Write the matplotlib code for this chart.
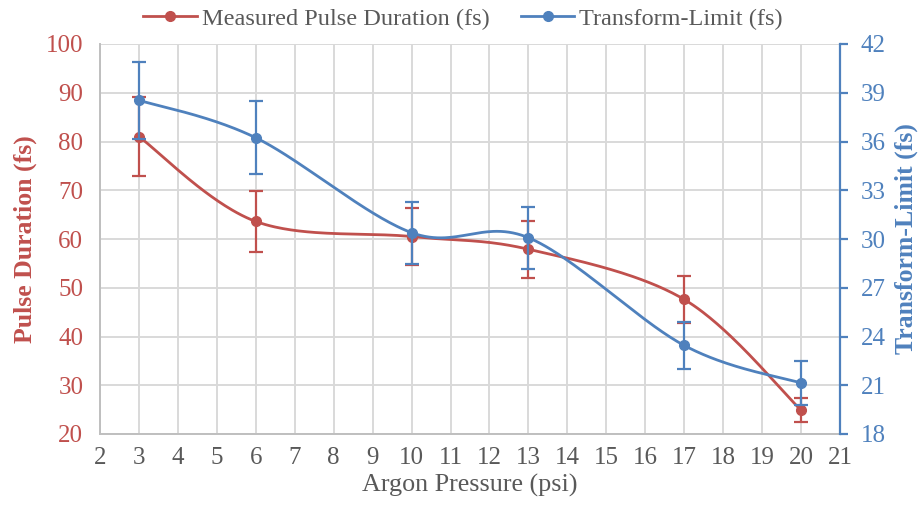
import numpy as np
import matplotlib
matplotlib.use("Agg")
import matplotlib.pyplot as plt
from matplotlib.lines import Line2D

# ---- data ----
pressure = [3, 6, 10, 13, 17, 20]
pulse_duration = [81.0, 63.6, 60.5, 57.9, 47.6, 24.9]
pulse_err = [8.1, 6.2, 5.9, 5.8, 4.8, 2.5]
transform_limit = [38.54, 36.23, 30.39, 30.08, 23.45, 21.14]
tl_err = [2.37, 2.25, 1.9, 1.9, 1.45, 1.33]

x_ticks = list(range(2, 22))
left_ticks = [20, 30, 40, 50, 60, 70, 80, 90, 100]
right_ticks = [18, 21, 24, 27, 30, 33, 36, 39, 42]

RED = "#C0504D"
BLUE = "#4F81BD"
GRID = "#D9D9D9"
GRAY = "#595959"
FONT = "Liberation Serif"

plt.rcParams["font.family"] = [FONT, "DejaVu Serif"]


def excel_smooth(x, y, n=60):
    """Bezier smoothing similar to Excel's smoothed line."""
    P = np.column_stack([x, y]).astype(float)
    m = len(P)
    xs, ys = [], []
    for i in range(m - 1):
        p0 = P[i - 1] if i > 0 else P[i]
        p1 = P[i]
        p2 = P[i + 1]
        p3 = P[i + 2] if i + 2 < m else P[i + 1]
        c1 = p1 + (p2 - p0) / 6.0
        c2 = p2 - (p3 - p1) / 6.0
        t = np.linspace(0, 1, n)[:, None]
        seg = ((1 - t) ** 3) * p1 + 3 * ((1 - t) ** 2) * t * c1 + 3 * (1 - t) * t ** 2 * c2 + t ** 3 * p2
        if i > 0:
            seg = seg[1:]
        xs.append(seg[:, 0])
        ys.append(seg[:, 1])
    return np.concatenate(xs), np.concatenate(ys)


fig = plt.figure(figsize=(9.2, 5.13), dpi=100)
ax = fig.add_axes([100 / 920, 1 - 434 / 513, 740 / 920, 390 / 513])
ax2 = ax.twinx()

ax.set_xlim(2, 21)
ax.set_ylim(20, 100)
ax2.set_ylim(18, 42)

ax.set_xticks(x_ticks)
ax.set_yticks(left_ticks)
ax2.set_yticks(right_ticks)
ax.grid(True, color=GRID, linewidth=1.4)
ax.set_axisbelow(True)

for s in ["top", "right"]:
    ax.spines[s].set_visible(False)
for s in ["left", "bottom"]:
    ax.spines[s].set_color("#BFBFBF")
    ax.spines[s].set_linewidth(1.4)
for s in ["top", "left", "bottom"]:
    ax2.spines[s].set_visible(False)
ax2.spines["right"].set_color(BLUE)
ax2.spines["right"].set_linewidth(1.6)

ax.tick_params(axis="y", length=0, labelcolor=RED, labelsize=18, pad=12)
ax.tick_params(axis="x", length=0, labelcolor=GRAY, labelsize=18, pad=9)
ax2.tick_params(axis="y", length=6, width=1.6, color=BLUE, labelcolor=BLUE, labelsize=18, pad=9, direction="out")

# red series
sx, sy = excel_smooth(pressure, pulse_duration)
ax.plot(sx, sy, color=RED, linewidth=2.0, zorder=3)
ax.errorbar(pressure, pulse_duration, yerr=pulse_err, fmt="o", color=RED, ecolor=RED,
            markersize=7, elinewidth=1.6, capsize=5, capthick=1.6, zorder=4)

# blue series
bx, by = excel_smooth(pressure, transform_limit)
ax2.plot(bx, by, color=BLUE, linewidth=2.0, zorder=3)
ax2.errorbar(pressure, transform_limit, yerr=tl_err, fmt="o", color=BLUE, ecolor=BLUE,
             markersize=7, elinewidth=1.6, capsize=5, capthick=1.6, zorder=4)

ax.set_xlabel("Argon Pressure (psi)", fontsize=18.8, color=GRAY, labelpad=4)
ax.set_ylabel("Pulse Duration (fs)", fontsize=18.5, color=RED, fontweight="bold", labelpad=6)
ax2.set_ylabel("Transform-Limit (fs)", fontsize=18.5, color=BLUE, fontweight="bold", labelpad=6)

handles = [
    Line2D([0], [0], color=RED, linewidth=2.0, marker="o", markersize=7),
    Line2D([0], [0], color=BLUE, linewidth=2.0, marker="o", markersize=7),
]
fig.legend(handles, ["Measured Pulse Duration (fs)", "Transform-Limit (fs)"],
           loc="center", bbox_to_anchor=(463 / 920, 1 - 19 / 513), ncol=2, frameon=False,
           fontsize=17.5, labelcolor=GRAY, handlelength=2.2, handletextpad=0.2, columnspacing=1.3)

fig.savefig("out.png", dpi=100)
